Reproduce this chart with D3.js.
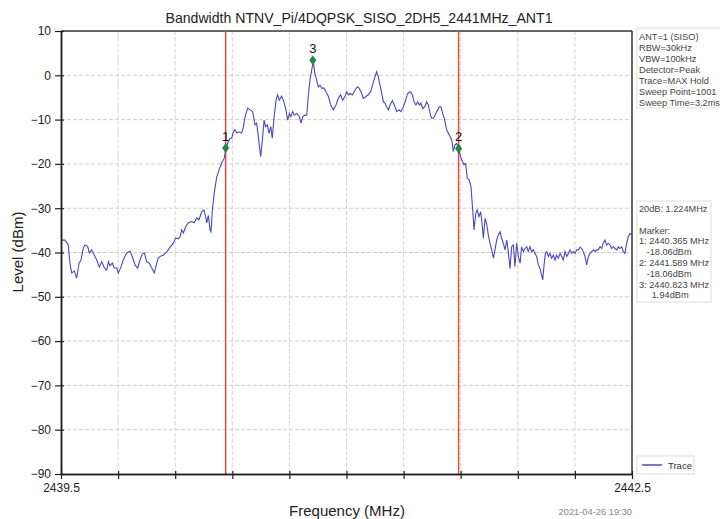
<!DOCTYPE html>
<html><head><meta charset="utf-8">
<script src="https://cdn.jsdelivr.net/npm/d3@7/dist/d3.min.js"></script>
<style>body{margin:0;background:#fff}svg{display:block;font-family:"Liberation Sans",Arial,sans-serif}</style>
</head><body><svg id="c" width="720" height="519"></svg>
<script>
const title = "Bandwidth NTNV_Pi/4DQPSK_SISO_2DH5_2441MHz_ANT1";
const xDomain = [2439.5, 2442.5];
const yDomain = [-90, 10];
const xTicks = [2439.5,2439.8,2440.1,2440.4,2440.7,2441.0,2441.3,2441.6,2441.9,2442.2,2442.5];
const xTickLabels = ["2439.5","","","","","","","","","","2442.5"];
const yTicks = [10,0,-10,-20,-30,-40,-50,-60,-70,-80,-90];
const limitLines = [2440.365, 2441.589];
const markerNames = ["1","2","3"];
const markerFreq = [2440.365, 2441.589, 2440.823];
const markerLevel = [-16.4, -16.5, 3.4];
const infoTop = ["ANT=1 (SISO)","RBW=30kHz","VBW=100kHz","Detector=Peak","Trace=MAX Hold","Sweep Point=1001","Sweep Time=3.2ms"];
const infoMarker = ["20dB: 1.224MHz","","Marker:","1: 2440.365 MHz","   -18.06dBm","2: 2441.589 MHz","   -18.06dBm","3: 2440.823 MHz","     1.94dBm"];
const trace = [
[2439.504,-37.2],[2439.521,-37.2],[2439.538,-38.3],[2439.547,-42.4],[2439.556,-44.6],[2439.570,-44.2],[2439.582,-45.8],[2439.595,-42.4],[2439.605,-41.7],[2439.617,-39.0],[2439.626,-38.3],[2439.640,-38.6],[2439.649,-40.1],[2439.661,-39.4],[2439.675,-40.6],[2439.688,-41.7],[2439.701,-43.3],[2439.714,-42.1],[2439.728,-43.5],[2439.740,-44.0],[2439.749,-42.1],[2439.757,-43.0],[2439.770,-42.4],[2439.780,-43.5],[2439.793,-43.5],[2439.801,-44.6],[2439.815,-43.3],[2439.827,-41.7],[2439.845,-40.1],[2439.863,-39.7],[2439.875,-41.0],[2439.889,-42.8],[2439.903,-43.5],[2439.915,-41.7],[2439.927,-40.3],[2439.938,-40.1],[2439.950,-42.1],[2439.964,-42.4],[2439.977,-43.5],[2439.990,-44.6],[2440.003,-42.4],[2440.011,-41.2],[2440.025,-40.8],[2440.037,-40.6],[2440.055,-39.9],[2440.073,-38.8],[2440.090,-37.9],[2440.103,-36.7],[2440.116,-36.9],[2440.125,-36.5],[2440.134,-34.9],[2440.143,-35.6],[2440.155,-34.2],[2440.169,-33.3],[2440.187,-33.0],[2440.200,-33.3],[2440.213,-32.2],[2440.225,-32.6],[2440.239,-30.8],[2440.251,-30.4],[2440.260,-31.9],[2440.266,-33.3],[2440.274,-31.6],[2440.283,-34.9],[2440.288,-35.3],[2440.295,-30.4],[2440.305,-26.6],[2440.318,-23.0],[2440.330,-21.4],[2440.344,-19.8],[2440.358,-18.7],[2440.367,-16.4],[2440.376,-15.3],[2440.388,-14.2],[2440.397,-14.2],[2440.405,-12.8],[2440.414,-12.3],[2440.423,-13.0],[2440.435,-12.8],[2440.449,-13.0],[2440.458,-11.7],[2440.467,-9.4],[2440.481,-7.4],[2440.493,-7.8],
[2440.507,-8.2],[2440.519,-11.2],[2440.528,-10.8],[2440.537,-13.9],[2440.549,-18.4],[2440.558,-14.6],[2440.567,-10.1],[2440.575,-11.6],[2440.584,-11.2],[2440.593,-13.1],[2440.602,-11.6],[2440.610,-14.2],[2440.619,-9.7],[2440.630,-5.6],[2440.638,-4.4],[2440.647,-5.6],[2440.659,-4.7],[2440.668,-5.6],[2440.682,-7.8],[2440.691,-10.1],[2440.700,-8.6],[2440.708,-9.3],[2440.717,-8.2],[2440.726,-9.0],[2440.738,-8.6],[2440.752,-9.3],[2440.761,-10.8],[2440.770,-9.3],[2440.782,-9.0],[2440.791,-9.0],[2440.799,-4.8],[2440.808,-1.1],[2440.819,1.6],[2440.826,3.1],[2440.834,0.4],[2440.843,-1.1],[2440.852,-2.6],[2440.861,-2.2],[2440.870,-2.9],[2440.882,-2.9],[2440.892,-3.7],[2440.905,-4.8],[2440.917,-6.7],[2440.931,-7.8],[2440.945,-6.7],[2440.957,-5.2],[2440.969,-4.4],[2440.980,-5.6],[2440.992,-4.8],[2441.001,-3.7],[2441.010,-4.4],[2441.018,-4.1],[2441.032,-4.4],[2441.045,-3.3],[2441.057,-2.6],[2441.067,-2.9],[2441.080,-4.1],[2441.088,-5.2],[2441.102,-4.8],[2441.115,-4.4],[2441.127,-3.7],[2441.137,-2.2],[2441.150,-0.3],[2441.158,0.8],[2441.167,-0.3],[2441.176,-2.2],[2441.185,-4.1],[2441.194,-6.0],[2441.202,-6.3],[2441.211,-7.1],[2441.220,-7.8],[2441.229,-6.7],[2441.241,-5.7],[2441.251,-6.7],[2441.264,-8.2],[2441.276,-7.8],[2441.286,-8.2],[2441.299,-7.1],[2441.311,-5.6],[2441.321,-4.1],[2441.334,-3.7],[2441.346,-4.4],[2441.355,-6.0],[2441.365,-6.7],[2441.374,-6.0],[2441.383,-6.7],[2441.391,-6.3],[2441.400,-7.5],[2441.412,-7.1],[2441.421,-6.0],[2441.430,-6.7],[2441.439,-8.6],[2441.447,-9.7],[2441.456,-9.7],[2441.465,-9.0],[2441.474,-8.2],[2441.488,-7.1],[2441.496,-7.1],[2441.505,-8.6],[2441.514,-9.7],[2441.526,-12.3],[2441.540,-13.5],
[2441.553,-14.6],[2441.561,-17.2],[2441.570,-15.7],[2441.579,-15.4],[2441.588,-16.5],[2441.600,-18.4],[2441.609,-19.5],[2441.617,-20.2],[2441.626,-19.9],[2441.635,-23.3],[2441.645,-23.6],[2441.654,-25.1],[2441.663,-30.4],[2441.670,-34.9],[2441.679,-31.2],[2441.687,-30.4],[2441.696,-31.9],[2441.705,-30.8],[2441.714,-34.2],[2441.719,-36.8],[2441.728,-32.3],[2441.736,-33.4],[2441.745,-36.0],[2441.754,-37.9],[2441.763,-39.4],[2441.772,-41.3],[2441.780,-39.4],[2441.789,-37.2],[2441.798,-36.0],[2441.807,-35.3],[2441.815,-36.8],[2441.824,-37.9],[2441.833,-39.4],[2441.842,-37.2],[2441.850,-39.8],[2441.859,-43.6],[2441.868,-38.7],[2441.877,-38.3],[2441.885,-43.2],[2441.894,-37.9],[2441.903,-40.9],[2441.912,-42.4],[2441.920,-38.7],[2441.929,-39.8],[2441.938,-39.1],[2441.947,-38.7],[2441.955,-39.8],[2441.964,-38.7],[2441.973,-39.8],[2441.982,-39.4],[2441.990,-40.2],[2441.999,-40.9],[2442.008,-42.8],[2442.017,-43.6],[2442.025,-45.1],[2442.031,-46.2],[2442.038,-42.8],[2442.045,-40.2],[2442.052,-39.8],[2442.061,-40.9],[2442.069,-40.2],[2442.078,-41.3],[2442.087,-40.6],[2442.096,-41.7],[2442.104,-40.6],[2442.113,-41.3],[2442.122,-40.2],[2442.131,-40.9],[2442.139,-41.7],[2442.148,-39.8],[2442.157,-40.9],[2442.166,-40.2],[2442.174,-39.4],[2442.183,-40.2],[2442.192,-39.8],[2442.201,-40.2],[2442.209,-39.4],[2442.218,-39.4],[2442.227,-38.8],[2442.236,-39.1],[2442.244,-39.8],[2442.253,-40.9],[2442.262,-42.8],[2442.271,-40.9],[2442.279,-40.2],[2442.288,-39.8],[2442.297,-39.4],[2442.306,-39.8],[2442.314,-39.4],[2442.323,-39.4],[2442.332,-38.7],[2442.341,-39.1],[2442.349,-37.9],[2442.358,-37.2],[2442.367,-38.3],[2442.376,-37.9],[2442.385,-38.3],[2442.393,-39.1],[2442.402,-38.7],[2442.411,-39.1],[2442.420,-39.4],[2442.428,-38.7],[2442.437,-39.1],[2442.446,-38.7],[2442.455,-39.8],[2442.463,-40.2],[2442.472,-37.9],[2442.481,-36.4],[2442.490,-35.7],[2442.498,-36.0]
];

const svg = d3.select("#c");
const L = 61, R = 632, T = 31, B = 474;
const x = d3.scaleLinear().domain(xDomain).range([L, R]);
const y = d3.scaleLinear().domain(yDomain).range([B, T]);

// grid
svg.append("g").selectAll("line").data(yTicks.filter(v => v > yDomain[0] && v < yDomain[1])).join("line")
  .attr("x1", L).attr("x2", R).attr("y1", d => y(d)).attr("y2", d => y(d))
  .attr("stroke", "#d9cbc3").attr("stroke-width", 1).attr("stroke-dasharray", "4,2");
svg.append("g").selectAll("line").data(xTicks.slice(1, -1)).join("line")
  .attr("y1", T).attr("y2", B).attr("x1", d => x(d)).attr("x2", d => x(d))
  .attr("stroke", "#d4d4d4").attr("stroke-width", 1).attr("stroke-dasharray", "4,2");

// frame top/right
svg.append("line").attr("x1", L).attr("x2", R).attr("y1", T).attr("y2", T).attr("stroke", "#333").attr("stroke-width", 1.5);
svg.append("line").attr("x1", R).attr("x2", R).attr("y1", T).attr("y2", B).attr("stroke", "#333").attr("stroke-width", 1.5);

// limit lines
svg.append("g").selectAll("line").data(limitLines).join("line")
  .attr("x1", d => x(d)).attr("x2", d => x(d)).attr("y1", T).attr("y2", B)
  .attr("stroke", "#e5483f").attr("stroke-width", 1.5);

// trace
svg.append("path").datum(trace)
  .attr("d", d3.line().x(d => x(d[0])).y(d => y(d[1])))
  .attr("fill", "none").attr("stroke", "#4a48c0").attr("stroke-width", 1.1);

// axes
svg.append("g").attr("transform", `translate(${L},0)`)
  .call(d3.axisLeft(y).tickValues(yTicks).tickSize(6).tickSizeOuter(0).tickPadding(4).tickFormat(d3.format("d")));
svg.append("g").attr("transform", `translate(${L},0)`)
  .call(d3.axisRight(y).tickValues(yTicks).tickSize(3).tickSizeOuter(0).tickFormat(""));
svg.append("g").attr("transform", `translate(0,${B})`)
  .call(d3.axisBottom(x).tickValues(xTicks).tickSize(5).tickSizeOuter(0).tickPadding(4).tickFormat((d, i) => xTickLabels[i]));
svg.append("g").attr("transform", `translate(0,${B})`)
  .call(d3.axisTop(x).tickValues(xTicks).tickSize(3).tickSizeOuter(0).tickFormat(""));
svg.selectAll(".domain").attr("stroke", "#222").attr("stroke-width", 1.5);
svg.selectAll(".tick line").attr("stroke", "#222").attr("stroke-width", 1.2);
svg.selectAll(".tick text").attr("font-size", 12).attr("fill", "#222").attr("font-family", "Liberation Sans, Arial, sans-serif");

// markers
const mk = svg.append("g");
markerFreq.forEach((f, i) => {
  const cx = x(f), cy = y(markerLevel[i]);
  mk.append("path").attr("d", `M${cx},${cy-5}L${cx+3.5},${cy}L${cx},${cy+5}L${cx-3.5},${cy}Z`).attr("fill", "#1f8a3c");
  mk.append("text").attr("x", cx).attr("y", cy - 7).attr("text-anchor", "middle").attr("font-size", 13).attr("fill", "#111").text(markerNames[i]);
});

// title and labels
svg.append("text").attr("x", 359).attr("y", 23).attr("text-anchor", "middle").attr("font-size", 14.1).attr("fill", "#222").text(title);
svg.append("text").attr("transform", "translate(23,252) rotate(-90)").attr("text-anchor", "middle").attr("font-size", 15).attr("fill", "#222").text("Level (dBm)");
svg.append("text").attr("x", 347).attr("y", 516).attr("text-anchor", "middle").attr("font-size", 15).attr("fill", "#222").text("Frequency (MHz)");
svg.append("text").attr("x", 632).attr("y", 515).attr("text-anchor", "end").attr("font-size", 9.3).attr("fill", "#888").text("2021-04-26 19:30");

// info boxes
svg.append("rect").attr("x", 637).attr("y", 28).attr("width", 90).attr("height", 80).attr("fill", "#fff").attr("stroke", "#ddd");
svg.append("g").selectAll("text").data(infoTop).join("text")
  .attr("x", 639).attr("y", (d, i) => 40 + i * 11).attr("font-size", 9.2).attr("fill", "#444").text(d => d);
svg.append("rect").attr("x", 637).attr("y", 201).attr("width", 74).attr("height", 101).attr("fill", "#fff").attr("stroke", "#ddd");
svg.append("g").selectAll("text").data(infoMarker).join("text")
  .attr("x", 639).attr("y", (d, i) => 212 + i * 10.8).attr("font-size", 9.2).attr("fill", "#444")
  .attr("xml:space", "preserve").style("white-space", "pre").text(d => d);

// legend
svg.append("rect").attr("x", 637).attr("y", 456).attr("width", 57).attr("height", 18).attr("fill", "#fff").attr("stroke", "#ddd");
svg.append("line").attr("x1", 642).attr("x2", 662).attr("y1", 465).attr("y2", 465).attr("stroke", "#4a48c0").attr("stroke-width", 1.5);
svg.append("text").attr("x", 668).attr("y", 469).attr("font-size", 9.5).attr("fill", "#333").text("Trace");
</script></body></html>
